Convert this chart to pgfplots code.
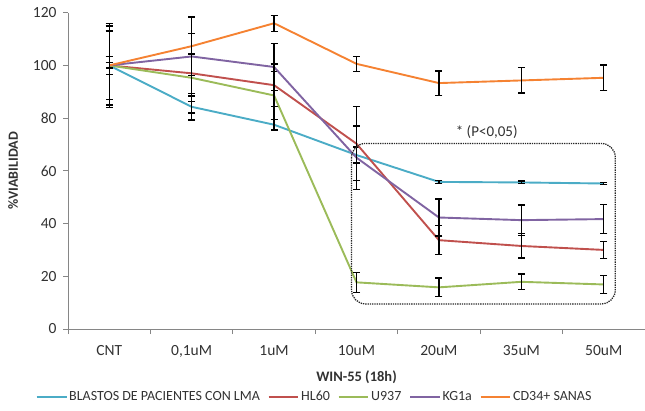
\documentclass[border=0pt]{standalone}
\usepackage{pgfplots}
\pgfplotsset{compat=1.18}
\usepackage{fontspec}
\setmainfont{Carlito}
\definecolor{cblue}{RGB}{75,172,198}
\definecolor{cred}{RGB}{192,80,77}
\definecolor{cgreen}{RGB}{155,187,89}
\definecolor{cpurple}{RGB}{128,100,162}
\definecolor{corange}{RGB}{245,130,50}
\definecolor{axgray}{RGB}{134,134,134}
\definecolor{txt}{RGB}{50,50,50}
\begin{document}
\begin{tikzpicture}[font=\fontsize{14}{16}\selectfont]
\useasboundingbox (-68pt,-81pt) rectangle (577pt,329pt);
\begin{axis}[
  at={(0pt,0pt)}, anchor=south west,
  scale only axis, width=577pt, height=316.3pt,
  xmin=-0.5, xmax=6.5, ymin=0, ymax=120,
  axis lines*=left,
  axis line style={axgray, line width=1pt},
  xtick={0,...,6},
  xticklabels={CNT,{0,1uM},1uM,10uM,20uM,35uM,50uM},
  minor xtick={-0.5,0.5,...,6.5},
  major x tick style={draw=none},
  minor tick length=5pt,
  ytick={0,20,...,120},
  major tick length=5pt,
  tick style={axgray, line width=1pt},
  tick align=outside,
  every tick label/.append style={font=\fontsize{15.5}{17}\selectfont, text=txt},
  /pgf/number format/assume math mode=true,
  yticklabel style={xshift=-3pt},
  xticklabel style={yshift=-8pt},
  xlabel={\textbf{WIN-55 (18h)}},
  xlabel style={text=txt, font=\fontsize{14.5}{16}\selectfont, yshift=-6pt},
  ylabel={\textbf{\%VIABILIDAD}},
  ylabel style={text=txt, font=\fontsize{14}{16}\selectfont, yshift=8pt},
  clip=false,
  error bars/y dir=both, error bars/y explicit,
  error bars/error bar style={black, line width=1.3pt},
  error bars/error mark options={rotate=90, mark size=3.5pt, black, line width=1.3pt},
  legend columns=-1,
  legend style={draw=none, fill=none, at={(-0.061,-0.215)}, anchor=west,
    font=\fontsize{14}{16}\selectfont, text=txt,
    /tikz/every even column/.append style={column sep=6pt}},
  legend image code/.code={\draw[#1, line width=1.3pt] (-0.2cm,0) -- (0.85cm,0);},
]
\addplot[cblue, line width=1.9pt, mark=none] coordinates {
 (0,100) +- (0,16) (1,84.3) +- (0,5) (2,77.5) +- (0,2) (3,66) +- (0,3)
 (4,55.8) +- (0,0.6) (5,55.6) +- (0,0.5) (6,55.2) +- (0,0.5)};
\addplot[cred, line width=1.9pt, mark=none] coordinates {
 (0,100) +- (0,15) (1,97) +- (0,15) (2,92.5) +- (0,8) (3,70.3) +- (0,14)
 (4,33.7) +- (0,5.5) (5,31.5) +- (0,4.6) (6,30) +- (0,3.2)};
\addplot[cgreen, line width=1.9pt, mark=none] coordinates {
 (0,100) +- (0,13) (1,95.3) +- (0,9) (2,88.6) +- (0,9) (3,17.7) +- (0,3.8)
 (4,15.8) +- (0,3.6) (5,17.9) +- (0,3) (6,16.9) +- (0,3.5)};
\addplot[cpurple, line width=1.9pt, mark=none] coordinates {
 (0,100) +- (0,3.5) (1,103.4) +- (0,15) (2,99.4) +- (0,9) (3,65) +- (0,12)
 (4,42.3) +- (0,7) (5,41.3) +- (0,5.7) (6,41.7) +- (0,5.5)};
\addplot[corange, line width=1.9pt, mark=none] coordinates {
 (0,100) +- (0,1) (1,107.3) +- (0,11) (2,116) +- (0,3) (3,100.6) +- (0,2.8)
 (4,93.3) +- (0,4.6) (5,94.3) +- (0,4.8) (6,95.3) +- (0,4.9)};
\legend{BLASTOS DE PACIENTES CON LMA, HL60, U937, KG1a, CD34+ SANAS}
\draw[black!85, densely dotted, line width=1.3pt, rounded corners=14pt]
  (axis cs:2.94,70.4) rectangle (axis cs:6.14,9.5);
\node[text=txt, font=\fontsize{15}{17}\selectfont] at (axis cs:4.58,74.6) {* (P<0,05)};
\end{axis}
\end{tikzpicture}
\end{document}
